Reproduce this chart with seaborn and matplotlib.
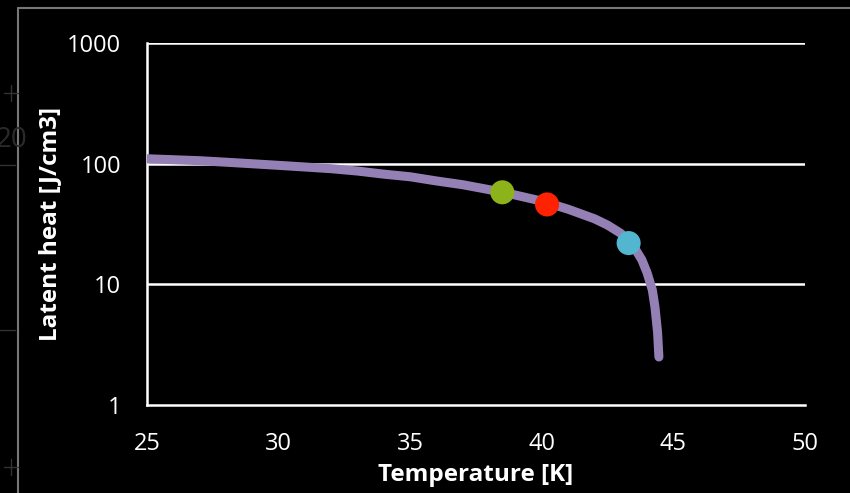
import numpy as np
import pandas as pd
import matplotlib
matplotlib.use("Agg")
import matplotlib.pyplot as plt
from matplotlib.lines import Line2D
import seaborn as sns

# latent heat curve
temperature = [25.0, 26.0, 27.0, 28.0, 29.0, 30.0, 31.0, 32.0, 33.0, 34.0, 35.0, 36.0,
               37.0, 38.0, 39.0, 40.0, 41.0, 42.0, 42.5, 43.0, 43.5, 43.8, 44.0,
               44.2, 44.3, 44.4, 44.45]
latent_heat = [110, 108, 106, 103, 100, 97, 94, 91, 87, 82, 78, 72,
               67, 61, 55, 49, 42, 35, 31, 26.5, 20.5, 16, 12.5,
               9, 6.5, 4, 2.5]

# highlighted points
point_t = [38.5, 40.2, 43.3]
point_q = [58, 46, 22]
point_colors = ["#8db31a", "#ff2200", "#52b6d0"]

x_ticks = [25, 30, 35, 40, 45, 50]
y_ticks = [1, 10, 100, 1000]

sns.set_style("dark")
plt.rcParams["font.family"] = ["Open Sans", "DejaVu Sans"]

fig = plt.figure(figsize=(8.5, 4.93), dpi=100, facecolor="black")
ax = fig.add_axes([0.173, 0.1785, 0.774, 0.734])
ax.set_facecolor("black")

curve = pd.DataFrame({"T": temperature, "Q": latent_heat})
sns.lineplot(data=curve, x="T", y="Q", ax=ax, color="#9580b6", linewidth=6.5,
             solid_capstyle="round", solid_joinstyle="round", zorder=3)

pts = pd.DataFrame({"T": point_t, "Q": point_q, "c": point_colors})
sns.scatterplot(data=pts, x="T", y="Q", hue="c", palette=dict(zip(point_colors, point_colors)),
                s=300, edgecolor="none", legend=False, ax=ax, zorder=4)

ax.set_yscale("log")
ax.set_xlim(25, 50)
ax.set_ylim(1, 1000)
ax.set_xticks(x_ticks)
ax.set_yticks(y_ticks)
ax.set_yticklabels([str(v) for v in y_ticks])
ax.minorticks_off()
ax.grid(False)
for v in y_ticks[1:]:
    ax.axhline(v, color="white", linewidth=1.8, zorder=1)

for side in ["top", "right"]:
    ax.spines[side].set_visible(False)
for side in ["left", "bottom"]:
    ax.spines[side].set_visible(True)
    ax.spines[side].set_color("white")
    ax.spines[side].set_linewidth(1.8)

ax.tick_params(axis="both", colors="white", labelcolor="white", labelsize=17,
               direction="out", length=5.5, width=1.5)
ax.tick_params(axis="x", pad=14)
ax.tick_params(axis="y", pad=13)

ax.set_xlabel("Temperature [K]", color="white", fontsize=17.5, fontweight="bold", labelpad=5)
ax.set_ylabel("Latent heat [J/cm3]", color="white", fontsize=17.5, fontweight="bold", labelpad=4)

# grey slide frame and faint leftovers behind the chart
frame = "#777777"
faint = "#333333"
fig.add_artist(Line2D([18 / 850, 1], [1 - 8 / 493, 1 - 8 / 493], color=frame, linewidth=1.5))
fig.add_artist(Line2D([18 / 850, 18 / 850], [0, 1 - 8 / 493], color=frame, linewidth=1.5))
for yy in [165, 330]:
    fig.add_artist(Line2D([0, 15 / 850], [1 - yy / 493] * 2, color=faint, linewidth=1))
for yy in [93, 467]:
    fig.add_artist(Line2D([4 / 850, 18 / 850], [1 - yy / 493] * 2, color=faint, linewidth=1))
    fig.add_artist(Line2D([11 / 850] * 2, [1 - (yy - 8) / 493, 1 - (yy + 8) / 493], color=faint, linewidth=1))
fig.text(-4 / 850, 1 - 140 / 493, "20", color="#2a2a2a", fontsize=20, va="center", ha="left")

fig.savefig("out.png", dpi=100, facecolor="black")
